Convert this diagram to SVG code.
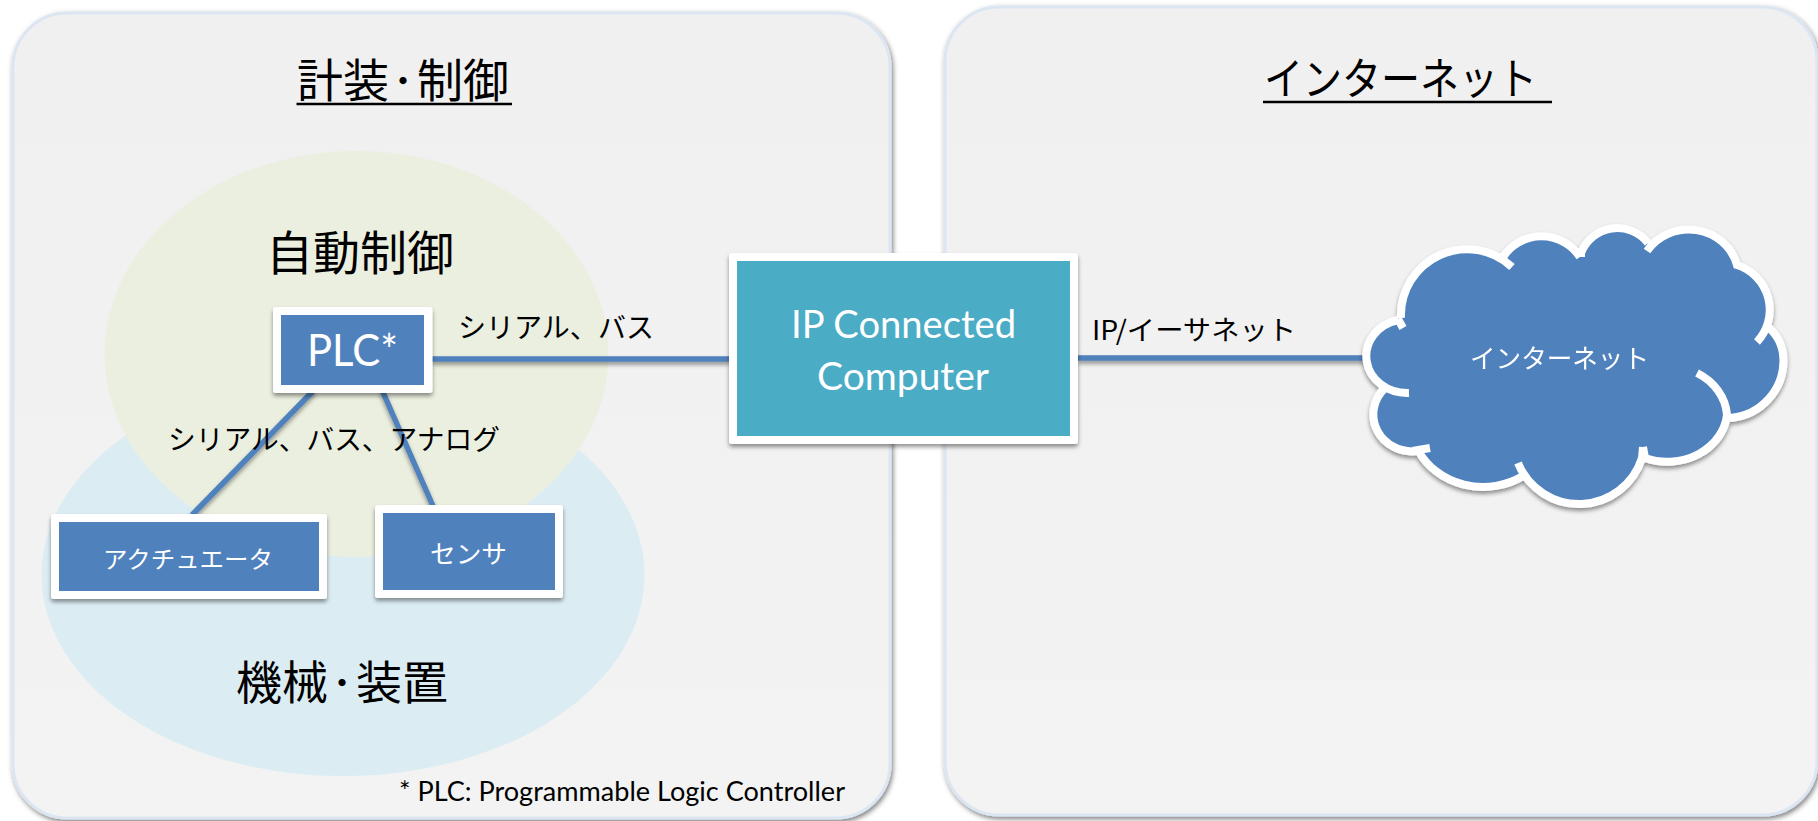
<svg xmlns="http://www.w3.org/2000/svg" width="1818" height="821" viewBox="0 0 1818 821">
<style>
text{font-family:"Noto Sans CJK JP","Noto Sans",sans-serif;fill:#000}
.lat{font-family:Lato,"Noto Sans",sans-serif}
.w{fill:#fff}
.dot{font-size:28px;font-weight:700}
.panel{stroke:#dce6f2;stroke-width:3}
.box{fill:#fff}
.c{fill:none;stroke:#4f81bd;stroke-width:5.500}
</style>
<defs>
<linearGradient id="pg" x1="0" y1="0" x2="0" y2="1"><stop offset="0" stop-color="#f0f0f0"/><stop offset="1" stop-color="#f3f3f3"/></linearGradient>
<filter id="ps" x="-5%" y="-5%" width="110%" height="110%"><feDropShadow dx="1.500" dy="2.500" stdDeviation="2.500" flood-color="#000" flood-opacity=".5"/></filter>
<filter id="s" x="-20%" y="-30%" width="140%" height="160%"><feDropShadow dx="0" dy="3" stdDeviation="2.200" flood-color="#000" flood-opacity=".42"/></filter>
<filter id="ls" filterUnits="userSpaceOnUse" x="0" y="0" width="1818" height="821"><feDropShadow dx="0" dy="3" stdDeviation="2" flood-color="#000" flood-opacity=".4"/></filter>
</defs>
<g id="panel-left"><rect class="panel" x="13" y="13" width="877" height="805" rx="54" fill="url(#pg)" filter="url(#ps)"/></g>
<g id="panel-right"><rect class="panel" x="945" y="7" width="872" height="808" rx="54" fill="url(#pg)" filter="url(#ps)"/></g>
<g id="title-left">
<text x="297" y="97" font-size="46">計装<tspan class="dot" dy="-5">・</tspan><tspan dy="5">制御</tspan></text>
<line x1="296.500" y1="104" x2="512" y2="104" stroke="#000" stroke-width="2.500"/>
</g>
<g id="title-right">
<text x="1264" y="95" font-size="44" textLength="273" lengthAdjust="spacingAndGlyphs">インターネット</text>
<line x1="1263" y1="102" x2="1552" y2="102" stroke="#000" stroke-width="2.500"/>
</g>
<g id="machine"><ellipse cx="343" cy="575" rx="301.500" ry="201" fill="#dbedf3"/></g>
<g id="control"><ellipse cx="356.500" cy="354" rx="252" ry="203" fill="#ebefdf"/></g>
<text id="label-control" x="266" y="270" font-size="47">自動制御</text>
<text id="label-machine" x="236" y="699" font-size="46">機械<tspan class="dot" dy="-5">・</tspan><tspan dy="5">装置</tspan></text>
<g id="connectors" filter="url(#ls)">
<line class="c" x1="432" y1="359" x2="730" y2="359"/>
<line class="c" x1="1078" y1="358" x2="1365" y2="358"/>
<line class="c" x1="314" y1="390" x2="192" y2="515"/>
<line class="c" x1="382" y1="390" x2="433" y2="506"/>
</g>
<g id="plc"><rect class="box" x="273" y="307" width="159.500" height="86" rx="3" filter="url(#s)"/><rect x="281" y="315" width="143" height="70" fill="#4f81bd"/><text class="lat w" x="307" y="366" font-size="44" textLength="91" lengthAdjust="spacingAndGlyphs">PLC*</text></g>
<g id="actuator"><rect class="box" x="51" y="514" width="276" height="85" rx="3" filter="url(#s)"/><rect x="59" y="522" width="260" height="69" fill="#4f81bd"/><text class="w" x="103" y="568" font-size="24" textLength="170" lengthAdjust="spacingAndGlyphs">アクチュエータ</text></g>
<g id="sensor"><rect class="box" x="375" y="505" width="188" height="93" rx="3" filter="url(#s)"/><rect x="383" y="513" width="172" height="77" fill="#4f81bd"/><text class="w" x="430" y="563" font-size="25" textLength="77" lengthAdjust="spacingAndGlyphs">センサ</text></g>
<g id="computer"><rect class="box" x="729" y="253" width="349" height="191" rx="3" filter="url(#s)"/><rect x="737" y="261" width="333" height="175" fill="#4bacc6"/>
<text class="lat w" x="791" y="338" font-size="38" textLength="225" lengthAdjust="spacingAndGlyphs">IP Connected</text>
<text class="lat w" x="817" y="390" font-size="38" textLength="172" lengthAdjust="spacingAndGlyphs">Computer</text></g>
<g id="cloud" filter="url(#s)">
<path fill="#4f81bd" stroke="#4f81bd" stroke-width="2" d="M1401,318A66,66 0 0 1 1512,267ZM1503,257A46,46 0 0 1 1580,257ZM1581,253A39,39 0 0 1 1648,243ZM1647,251A50,48 0 0 1 1737,265ZM1737,265A47,47 0 0 1 1757,342ZM1768,327A44,44 0 0 1 1783.500,360A58,58 0 0 1 1730,418ZM1697,373A60,52 0 0 1 1727,415A60,52 0 0 1 1645,458ZM1643,447A66,66 0 0 1 1518,463ZM1523,476A72,65 0 0 1 1418,450ZM1418,451A39,37 0 0 1 1385,388ZM1409,393A41,37 0 0 1 1398,320ZM1398,320L1503,257L1580,257L1581,253L1648,243L1737,265L1768,327L1730,418L1645,458L1640,447L1523,476L1418,451L1385,388Z"/>
<path fill="none" stroke="#fff" stroke-width="8" d="M1403,328L1398,319M1401,318A66,66 0 0 1 1512,267M1503,257A46,46 0 0 1 1580,257M1581,257L1581,253A39,39 0 0 1 1648,243M1647,251A50,48 0 0 1 1737,265A47,47 0 0 1 1757,342M1768,327A44,44 0 0 1 1783.500,360A58,58 0 0 1 1730,418M1697,373A60,52 0 0 1 1727,415A60,52 0 0 1 1645,458L1643,447M1643,447L1642,458A66,66 0 0 1 1518,463M1523,476A72,65 0 0 1 1418,450L1430,448M1418,451A39,37 0 0 1 1385,388M1409,393A41,37 0 0 1 1398,320"/>
<text class="w" x="1470" y="368" font-size="26" textLength="179" lengthAdjust="spacingAndGlyphs">インターネット</text>
</g>
<text id="label-serial-bus" x="458" y="338" font-size="28" textLength="196" lengthAdjust="spacingAndGlyphs">シリアル、バス</text>
<text id="label-serial-bus-analog" x="168" y="450" font-size="28" textLength="332" lengthAdjust="spacingAndGlyphs">シリアル、バス、アナログ</text>
<text id="label-ip-ether" x="1092" y="340" font-size="27" textLength="204" lengthAdjust="spacingAndGlyphs">IP/イーサネット</text>
<text id="footnote" class="lat" x="399" y="801" font-size="26" textLength="446" lengthAdjust="spacingAndGlyphs">* PLC: Programmable Logic Controller</text>
</svg>
